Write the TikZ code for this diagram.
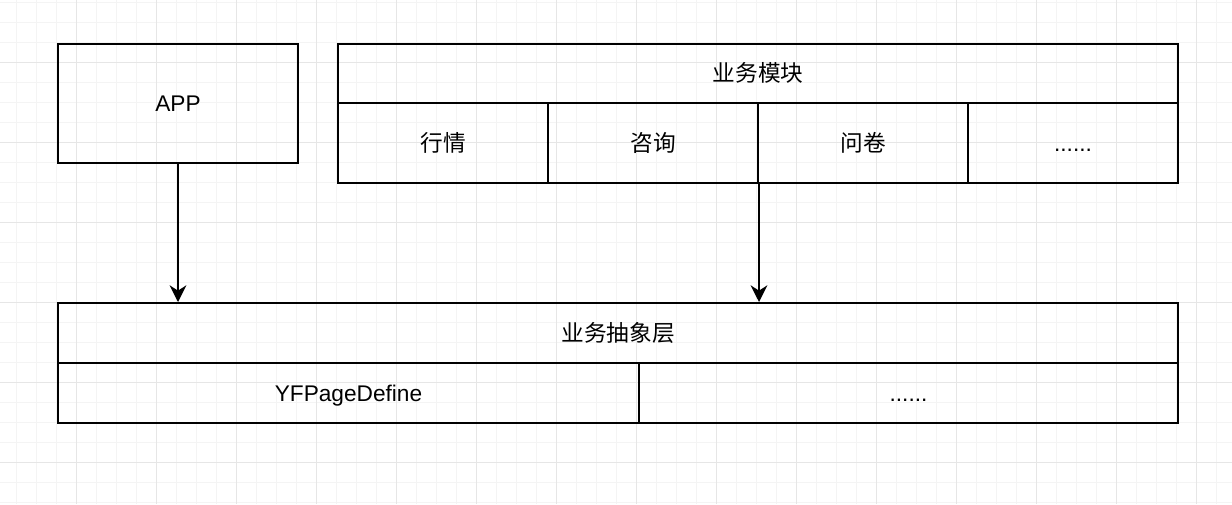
\documentclass[tikz,border=0pt]{standalone}
\usepackage{fontspec}
\setmainfont{Liberation Sans}
\newfontfamily\cjk{Noto Sans CJK SC}
\usetikzlibrary{arrows.meta,calc}
\definecolor{gridminor}{HTML}{F4F4F4}
\definecolor{gridmajor}{HTML}{E6E6E6}
\tikzset{
  cell/.style={draw=black, line width=1.5pt, rectangle, inner sep=0pt,
    font=\fontsize{17}{20}\selectfont, text height=12.5pt, text depth=0pt,
    anchor=north west},
  link/.style={draw=black, line width=1.5pt,
    -{Stealth[length=12.5pt, width=12.5pt, inset=4pt]}},
}
\begin{document}
\begin{tikzpicture}[x=0.75pt, y=-0.75pt]
  % canvas and background grid
  \fill[white] (0,0) rectangle (1232,504);
  \useasboundingbox (0,0) rectangle (1232,504);
  \foreach \gx in {16.5,36.5,...,1232} \draw[gridminor, line width=0.75pt] (\gx,0) -- (\gx,504);
  \foreach \gy in {2.5,22.5,...,504} \draw[gridminor, line width=0.75pt] (0,\gy) -- (1232,\gy);
  \foreach \gx in {76.5,156.5,...,1232} \draw[gridmajor, line width=0.75pt] (\gx,0) -- (\gx,504);
  \foreach \gy in {62.5,142.5,...,504} \draw[gridmajor, line width=0.75pt] (0,\gy) -- (1232,\gy);

  % APP box
  \node[cell, minimum width=180pt, minimum height=89.25pt] (app) at (57,43) {APP};

  % business modules
  \node[cell, minimum width=630pt, minimum height=44.25pt] (mod) at (337,43) {\cjk 业务模块};
  \node[cell, minimum width=157.5pt, minimum height=60pt] (hq) at (337,102) {\cjk 行情};
  \node[cell, minimum width=157.5pt, minimum height=60pt] (zx) at (547,102) {\cjk 咨询};
  \node[cell, minimum width=157.5pt, minimum height=60pt] (wj) at (757,102) {\cjk 问卷};
  \node[cell, minimum width=157.5pt, minimum height=60pt] (more) at (967,102) {......};

  % business abstraction layer
  \node[cell, minimum width=840pt, minimum height=45pt] (layer) at (57,302) {\cjk 业务抽象层};
  \node[cell, minimum width=435.75pt, minimum height=45pt] (pd) at (57,362) {YFPageDefine};
  \node[cell, minimum width=404.25pt, minimum height=45pt] (lmore) at (638,362) {......};

  % connectors
  \draw[link] (app.south) -- (app.south |- layer.north);
  \coordinate (modout) at ([xshift=1.5pt]wj.south west);
  \draw[link] (modout) -- (modout |- layer.north);
\end{tikzpicture}
\end{document}
